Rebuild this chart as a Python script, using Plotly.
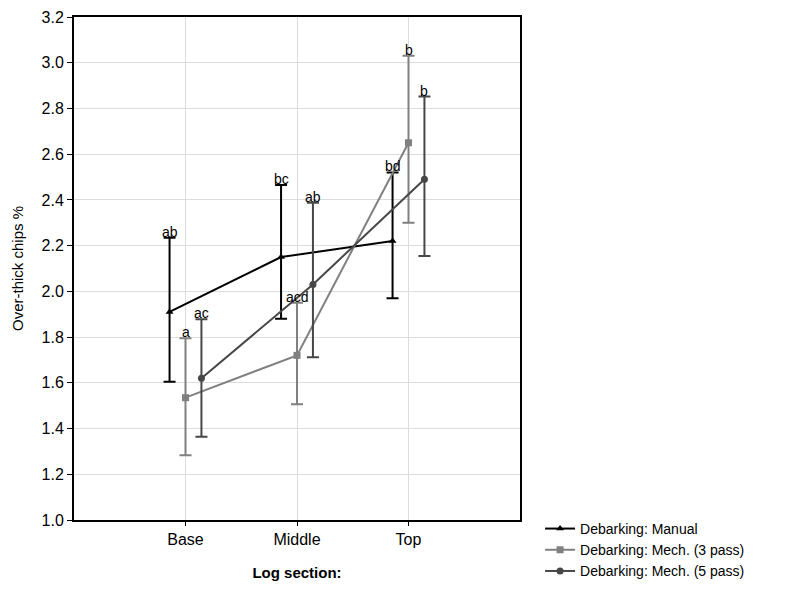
import plotly.graph_objects as go

# Log sections (x categories) and group offsets
sections = ["Base", "Middle", "Top"]
series_names = ["Debarking: Manual", "Debarking: Mech. (3 pass)", "Debarking: Mech. (5 pass)"]
offsets = [-0.143, 0.0, 0.143]

# Means and interval limits (over-thick chips %)
manual_mean = [1.91, 2.15, 2.22]
manual_upper = [2.235, 2.465, 2.52]
manual_lower = [1.605, 1.88, 1.97]
manual_letters = ["ab", "bc", "bd"]

mech3_mean = [1.535, 1.72, 2.65]
mech3_upper = [1.795, 1.95, 3.03]
mech3_lower = [1.283, 1.506, 2.30]
mech3_letters = ["a", "acd", "b"]

mech5_mean = [1.62, 2.03, 2.49]
mech5_upper = [1.878, 2.388, 2.852]
mech5_lower = [1.364, 1.712, 2.155]
mech5_letters = ["ac", "ab", "b"]

means = [manual_mean, mech3_mean, mech5_mean]
uppers = [manual_upper, mech3_upper, mech5_upper]
lowers = [manual_lower, mech3_lower, mech5_lower]
letters = [manual_letters, mech3_letters, mech5_letters]
colors = ["#000000", "#808080", "#474747"]
symbols = ["triangle-up", "square", "circle"]

y_ticks = [1.0, 1.2, 1.4, 1.6, 1.8, 2.0, 2.2, 2.4, 2.6, 2.8, 3.0, 3.2]
FONT = "Liberation Sans, Arial, sans-serif"

fig = go.Figure()
annotations = []
for k in range(3):
    xs = [i + offsets[k] for i in range(len(sections))]
    up = [u - m for u, m in zip(uppers[k], means[k])]
    dn = [m - l for m, l in zip(means[k], lowers[k])]
    fig.add_trace(go.Scatter(
        x=xs, y=means[k], name=series_names[k],
        mode="lines+markers",
        line=dict(color=colors[k], width=2),
        marker=dict(color=colors[k], symbol=symbols[k], size=7),
        error_y=dict(type="data", symmetric=False, array=up, arrayminus=dn,
                     color=colors[k], thickness=2, width=6),
    ))
    for x, u, t in zip(xs, uppers[k], letters[k]):
        annotations.append(dict(
            x=x, y=u, text=t, showarrow=False, xref="x", yref="y",
            yanchor="bottom", yshift=-4,
            font=dict(family=FONT, size=14, color="#000000"),
        ))

fig.update_layout(
    width=805, height=590,
    margin=dict(l=74, r=285, t=17, b=70, autoexpand=False),
    paper_bgcolor="white", plot_bgcolor="white",
    font=dict(family=FONT, size=15, color="#000000"),
    annotations=annotations,
    legend=dict(x=1.045, y=0.014, xanchor="left", yanchor="top",
                font=dict(family=FONT, size=14), tracegroupgap=0, itemwidth=30,
                bgcolor="rgba(0,0,0,0)"),
    showlegend=True,
)
fig.update_xaxes(
    range=[-1, 3], tickmode="array", tickvals=[0, 1, 2], ticktext=sections,
    showgrid=True, gridcolor="#dcdcdc", gridwidth=1,
    showline=True, linecolor="#000000", linewidth=2, mirror=True,
    ticks="outside", ticklen=4, tickcolor="#000000", zeroline=False,
    tickfont=dict(size=16),
    title=dict(text="<b>Log section:</b>", font=dict(size=15), standoff=20),
)
fig.update_yaxes(
    range=[1.0, 3.2], tickmode="array", tickvals=y_ticks,
    ticktext=[f"{v:.1f}" for v in y_ticks],
    showgrid=True, gridcolor="#dcdcdc", gridwidth=1,
    showline=True, linecolor="#000000", linewidth=2, mirror=True,
    ticks="outside", ticklen=5, tickcolor="#000000", zeroline=False,
    tickfont=dict(size=16),
    title=dict(text="Over-thick chips %", font=dict(size=15), standoff=14),
)

fig.write_html("out.html")
